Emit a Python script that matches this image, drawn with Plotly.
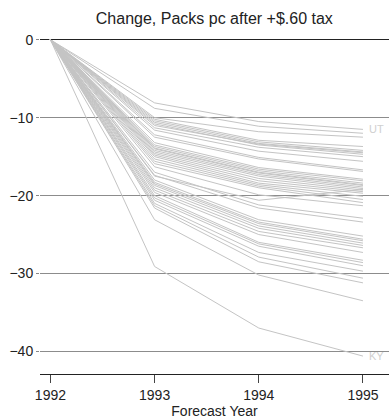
import plotly.graph_objects as go

years = [1992, 1993, 1994, 1995]

states = ["UT", "S02", "S03", "S04", "S05", "S06", "S07", "S08", "S09", "S10",
          "S11", "S12", "S13", "S14", "S15", "S16", "S17", "S18", "S19", "S20",
          "S21", "S22", "S23", "S24", "S25", "S26", "S27", "S28", "S29", "S30",
          "S31", "S32", "S33", "S34", "S35", "S36", "S37", "S38", "S39", "S40",
          "S41", "S42", "S43", "KY"]

v1993 = [-8.1, -8.8, -10.0, -10.2, -10.4, -10.6, -10.8, -11.0, -11.3, -11.6,
         -12.2, -12.5, -13.2, -13.5, -13.7, -13.9, -14.0, -14.2, -14.4, -14.6,
         -14.8, -15.0, -15.3, -15.6, -15.9, -17.5, -16.3, -17.0, -17.4, -18.0,
         -18.3, -18.5, -18.7, -19.0, -19.3, -19.6, -20.0, -20.3, -20.6, -21.0,
         -21.3, -21.6, -23.1, -29.1]
v1994 = [-10.5, -11.1, -11.8, -12.9, -13.1, -13.3, -13.5, -13.4, -13.8, -14.3,
         -15.1, -15.3, -16.4, -16.6, -16.8, -17.0, -17.1, -17.3, -17.5, -17.8,
         -18.1, -18.4, -18.6, -18.8, -19.0, -20.6, -19.9, -21.2, -21.6, -23.1,
         -23.4, -23.6, -23.9, -24.2, -24.6, -25.0, -26.0, -26.2, -26.5, -27.3,
         -27.9, -28.5, -30.2, -37.0]
v1995 = [-11.5, -12.0, -12.5, -13.7, -14.2, -14.4, -14.7, -14.5, -15.0, -15.6,
         -16.7, -16.9, -17.9, -18.1, -18.4, -18.6, -18.7, -18.9, -19.1, -19.3,
         -19.5, -19.7, -20.1, -20.5, -20.9, -19.2, -21.3, -22.9, -23.4, -25.2,
         -25.6, -25.8, -26.1, -26.4, -26.7, -27.3, -28.3, -28.6, -29.0, -29.7,
         -30.6, -31.2, -33.5, -40.6]

labeled = ["UT", "KY"]

FONT = "Liberation Sans, Arial, Helvetica, sans-serif"

fig = go.Figure()
for i, s in enumerate(states):
    fig.add_trace(go.Scatter(
        x=years, y=[0, v1993[i], v1994[i], v1995[i]],
        mode="lines", name=s, showlegend=False,
        line=dict(color="#c4c4c4", width=1), hoverinfo="name+y"))

for i, s in enumerate(states):
    if s in labeled:
        fig.add_annotation(x=years[-1], y=v1995[i], text=s, showarrow=False,
                           xanchor="left", xshift=4,
                           font=dict(color="#d0d0d0", size=11, family=FONT))

fig.update_layout(
    width=389, height=420,
    margin=dict(l=40, r=0, t=32, b=46, autoexpand=False),
    paper_bgcolor="white", plot_bgcolor="white",
    font=dict(family=FONT, size=14, color="#222"),
    title=dict(text="Change, Packs pc after +$.60 tax", x=0.551, xanchor="center",
               y=0.957, yanchor="middle", font=dict(size=16, color="#222")),
    xaxis=dict(range=[1991.9, 1995.25], tickvals=years, ticktext=[str(y) for y in years],
               showgrid=False, zeroline=False, showline=True, linecolor="#222",
               linewidth=1, ticks="outside", ticklen=8, tickcolor="#444",
               automargin=False,
               title=dict(text="Forecast Year", standoff=2, font=dict(size=14))),
    yaxis=dict(range=[-42.9, 1.0], tickvals=[0, -10, -20, -30, -40],
               showgrid=True, gridcolor="#8c8c8c", gridwidth=1,
               zeroline=True, zerolinecolor="#222", zerolinewidth=1,
               showline=False, ticks="outside", ticklen=3, tickcolor="#888",
               automargin=False),
)

fig.write_html("out.html", config={"displayModeBar": False},
               post_script="document.body.style.margin='0';document.body.style.overflow='hidden';")
